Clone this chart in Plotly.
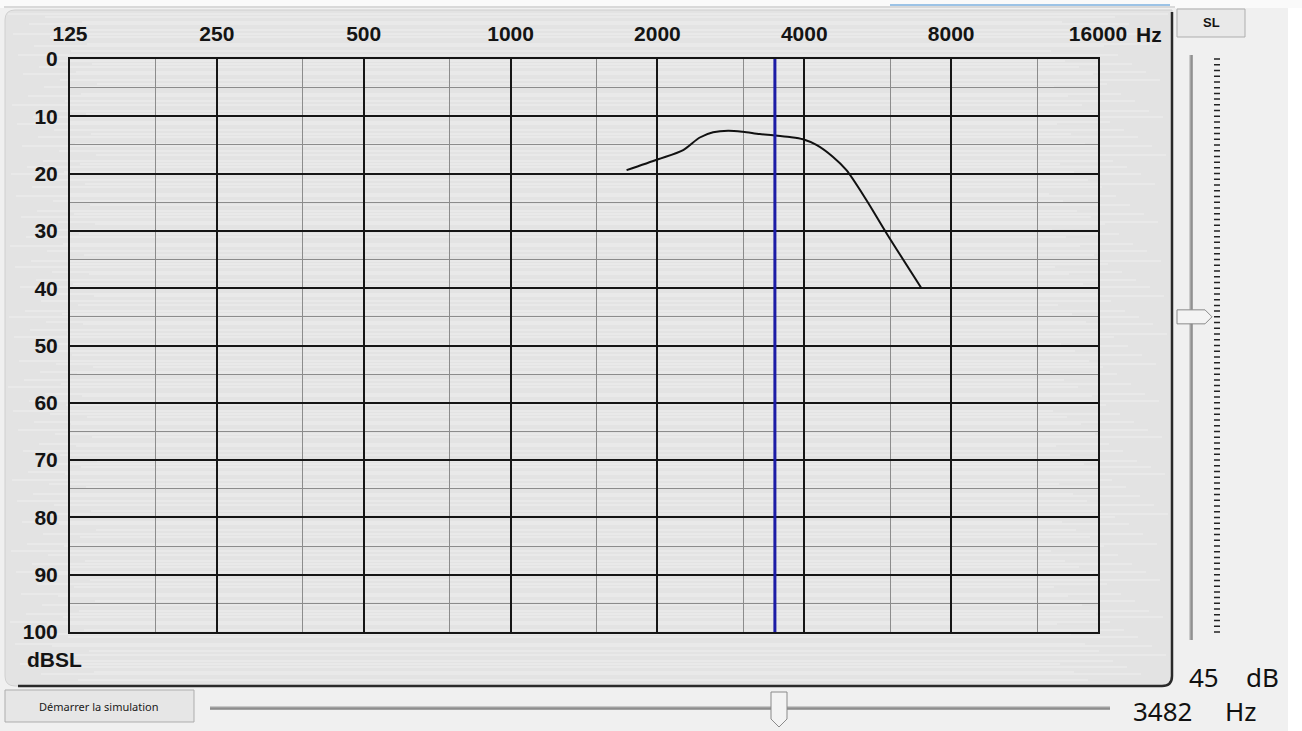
import math
import plotly.graph_objects as go

# ---------------- data ----------------
freq_ticks = [125, 250, 500, 1000, 2000, 4000, 8000, 16000]
freq_tick_labels = ["125", "250", "500", "1000", "2000", "4000", "8000", "16000"]
freq_minor = [187.5, 375, 750, 1500, 3000, 6000, 12000]
db_ticks = [0, 10, 20, 30, 40, 50, 60, 70, 80, 90, 100]
db_minor = [5, 15, 25, 35, 45, 55, 65, 75, 85, 95]

curve_freq = [1729, 2007, 2258, 2443, 2601, 2792, 2996, 3242, 3452, 3734,
              3977, 4236, 4582, 4881, 5362, 5896, 6954]
curve_db = [19.4, 17.5, 15.9, 13.7, 12.8, 12.5, 12.7, 13.1, 13.3, 13.6,
            14.0, 15.0, 17.1, 19.4, 24.6, 30.4, 40.0]

selected_freq = 3482
selected_level = 45
slider_db_ticks = list(range(0, 101))

# ---------------- geometry helpers ----------------
W, H = 1302, 731
L, R, T, B = 70, 1098, 59, 632
PW, PH = R - L, B - T


def px(x):
    return (x - L) / PW


def py(y):
    return (B - y) / PH


fig = go.Figure()

fig.add_trace(go.Scatter(
    x=curve_freq, y=curve_db, mode="lines",
    line=dict(color="#111111", width=2, shape="spline", smoothing=0.8),
    hoverinfo="skip", showlegend=False))

fig.add_trace(go.Scatter(
    x=[selected_freq, selected_freq], y=[0, 100], mode="lines",
    line=dict(color="#1c1ca6", width=3),
    hoverinfo="skip", showlegend=False))

shapes = []
# window background strips
shapes.append(dict(type="rect", xref="paper", yref="paper", x0=px(0), x1=px(W), y0=py(0), y1=py(8),
                   fillcolor="#fafafa", line=dict(width=0), layer="below"))
shapes.append(dict(type="line", xref="paper", yref="paper", x0=px(4), x1=px(1175), y0=py(7), y1=py(7),
                   line=dict(color="#b8b8b8", width=1), layer="below"))
shapes.append(dict(type="line", xref="paper", yref="paper", x0=px(890), x1=px(1170), y0=py(5), y1=py(5),
                   line=dict(color="#9cc3e6", width=2), layer="below"))
shapes.append(dict(type="rect", xref="paper", yref="paper", x0=px(1288), x1=px(W), y0=py(8), y1=py(H),
                   fillcolor="#ffffff", line=dict(width=0), layer="below"))

# panel (rounded)
r = 10
x0, x1, y0, y1 = 5, 1172, 10, 686
panel_path = (f"M {px(x0 + r)},{py(y0)} L {px(x1)},{py(y0)} L {px(x1)},{py(y1 - r)} "
              f"Q {px(x1)},{py(y1)} {px(x1 - r)},{py(y1)} L {px(x0 + r)},{py(y1)} "
              f"Q {px(x0)},{py(y1)} {px(x0)},{py(y1 - r)} L {px(x0)},{py(y0 + r)} "
              f"Q {px(x0)},{py(y0)} {px(x0 + r)},{py(y0)} Z")
shapes.append(dict(type="path", xref="paper", yref="paper", path=panel_path,
                   fillcolor="#e3e3e3", line=dict(color="#d0d0d0", width=1), layer="below"))

# brushed metal streaks
steps = [3, 5, 2, 6, 4, 3, 7, 2, 5, 4, 6, 3]
streak = []
yy = 14
i = 0
while yy < 682:
    xa = 8 + (i * 37) % 90
    xb = 1168 - (i * 53) % 120
    streak.append(f"M {px(xa)},{py(yy)} L {px(xb)},{py(yy)}")
    yy += steps[i % len(steps)]
    i += 1
shapes.append(dict(type="path", xref="paper", yref="paper", path=" ".join(streak),
                   line=dict(color="rgba(255,255,255,0.45)", width=1), layer="below"))

# panel dark border (right + bottom)
border_path = (f"M {px(x1)},{py(12)} L {px(x1)},{py(y1 - r)} "
               f"Q {px(x1)},{py(y1)} {px(x1 - r)},{py(y1)} L {px(18)},{py(y1)}")
shapes.append(dict(type="path", xref="paper", yref="paper", path=border_path,
                   line=dict(color="#2a2a2a", width=2.5), layer="below"))

# SL button
shapes.append(dict(type="rect", xref="paper", yref="paper", x0=px(1177), x1=px(1245), y0=py(9), y1=py(37),
                   fillcolor="#e9e9e9", line=dict(color="#adadad", width=1), layer="below"))

# vertical slider track
shapes.append(dict(type="line", xref="paper", yref="paper", x0=px(1191), x1=px(1191), y0=py(55), y1=py(640),
                   line=dict(color="#a6a6a6", width=3), layer="below"))
shapes.append(dict(type="line", xref="paper", yref="paper", x0=px(1192), x1=px(1192), y0=py(55), y1=py(640),
                   line=dict(color="#7a7a7a", width=1), layer="below"))
# slider ticks (one per dB)
tick_path = " ".join(f"M {px(1214)},{py(T + d * PH / 100)} L {px(1220)},{py(T + d * PH / 100)}"
                     for d in slider_db_ticks)
shapes.append(dict(type="path", xref="paper", yref="paper", path=tick_path,
                   line=dict(color="#222222", width=1.5)))
# slider thumb at selected level
ty = T + selected_level * PH / 100
thumb = (f"M {px(1177)},{py(ty - 7)} L {px(1205)},{py(ty - 7)} L {px(1212)},{py(ty)} "
         f"L {px(1205)},{py(ty + 7)} L {px(1177)},{py(ty + 7)} Z")
shapes.append(dict(type="path", xref="paper", yref="paper", path=thumb,
                   fillcolor="#f3f3f3", line=dict(color="#8a8a8a", width=1)))

# start button
shapes.append(dict(type="rect", xref="paper", yref="paper", x0=px(5), x1=px(194), y0=py(690), y1=py(722),
                   fillcolor="#e6e6e6", line=dict(color="#adadad", width=1), layer="below"))

# horizontal slider
shapes.append(dict(type="line", xref="paper", yref="paper", x0=px(210), x1=px(1110), y0=py(708), y1=py(708),
                   line=dict(color="#a0a0a0", width=3), layer="below"))
shapes.append(dict(type="line", xref="paper", yref="paper", x0=px(210), x1=px(1110), y0=py(709), y1=py(709),
                   line=dict(color="#7a7a7a", width=1), layer="below"))
hx = 779
hthumb = (f"M {px(hx - 8)},{py(692)} L {px(hx + 8)},{py(692)} L {px(hx + 8)},{py(719)} "
          f"L {px(hx)},{py(727)} L {px(hx - 8)},{py(719)} Z")
shapes.append(dict(type="path", xref="paper", yref="paper", path=hthumb,
                   fillcolor="#f3f3f3", line=dict(color="#8a8a8a", width=1)))

bold = dict(family="Liberation Sans Narrow, Arial Narrow, Liberation Sans, sans-serif",
            size=21, color="#141414", weight="bold")
annotations = [
    dict(text="Hz", x=px(1149), y=py(35), xref="paper", yref="paper", showarrow=False,
         font=bold, xanchor="center", yanchor="middle"),
    dict(text="dBSL", x=px(54), y=py(659), xref="paper", yref="paper", showarrow=False,
         font=bold, xanchor="center", yanchor="middle"),
    dict(text="SL", x=px(1211), y=py(23), xref="paper", yref="paper", showarrow=False,
         font=dict(family="Liberation Sans, Arial", size=13, color="#141414", weight="bold"),
         xanchor="center", yanchor="middle"),
    dict(text="Démarrer la simulation", x=px(99), y=py(706), xref="paper", yref="paper", showarrow=False,
         font=dict(family="Noto Sans, Open Sans, sans-serif", size=11, color="#1a1a1a"),
         xanchor="center", yanchor="middle"),
    dict(text=str(selected_level), x=px(1204), y=py(677), xref="paper", yref="paper", showarrow=False,
         font=dict(family="Noto Sans, sans-serif", size=26, color="#111111"), xanchor="center", yanchor="middle"),
    dict(text="dB", x=px(1262), y=py(677), xref="paper", yref="paper", showarrow=False,
         font=dict(family="Noto Sans, sans-serif", size=26, color="#111111"), xanchor="center", yanchor="middle"),
    dict(text=str(selected_freq), x=px(1163), y=py(711), xref="paper", yref="paper", showarrow=False,
         font=dict(family="Noto Sans, sans-serif", size=26, color="#111111"), xanchor="center", yanchor="middle"),
    dict(text="Hz", x=px(1241), y=py(711), xref="paper", yref="paper", showarrow=False,
         font=dict(family="Noto Sans, sans-serif", size=26, color="#111111"), xanchor="center", yanchor="middle"),
]

fig.update_layout(
    width=W, height=H,
    margin=dict(l=L, r=W - R, t=T, b=H - B, pad=0),
    paper_bgcolor="#f0f0f0",
    plot_bgcolor="rgba(0,0,0,0)",
    showlegend=False,
    shapes=shapes,
    annotations=annotations,
    xaxis=dict(
        type="log", range=[math.log10(125), math.log10(16000)], side="top",
        tickmode="array", tickvals=freq_ticks, ticktext=freq_tick_labels,
        tickfont=bold, ticks="", ticklabelstandoff=8,
        showgrid=True, gridcolor="#161616", gridwidth=2,
        minor=dict(tickmode="array", tickvals=freq_minor, showgrid=True, gridcolor="#8c8c8c", gridwidth=1, ticks=""),
        showline=True, linecolor="#161616", linewidth=2, mirror=True,
        zeroline=False, fixedrange=True,
    ),
    yaxis=dict(
        range=[100, 0], tickmode="array", tickvals=db_ticks,
        tickfont=bold, ticks="", ticklabelstandoff=6,
        showgrid=True, gridcolor="#161616", gridwidth=2,
        minor=dict(tickmode="array", tickvals=db_minor, showgrid=True, gridcolor="#8c8c8c", gridwidth=1, ticks=""),
        showline=True, linecolor="#161616", linewidth=2, mirror=True,
        zeroline=False, fixedrange=True,
    ),
)

fig.write_html("out.html", config={"displayModeBar": False},
               post_script="document.body.style.margin='0';document.body.style.padding='0';"
                           "document.body.style.overflow='hidden';")
